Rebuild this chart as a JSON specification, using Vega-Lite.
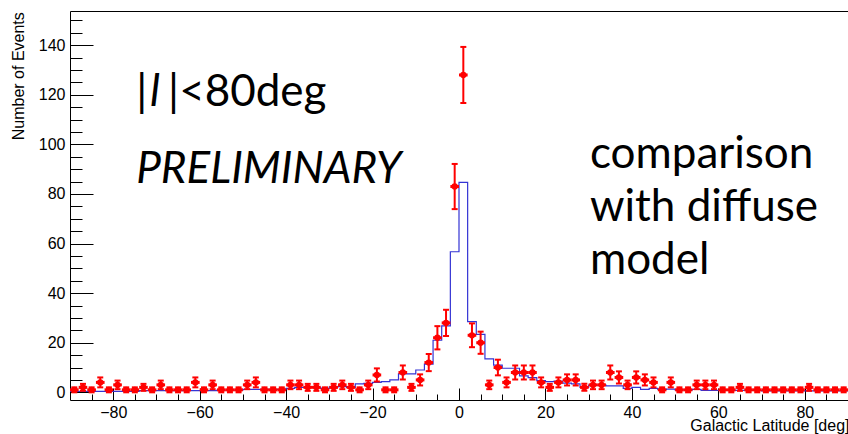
{
  "$schema": "https://vega.github.io/schema/vega-lite/v6.json",
  "width": 778,
  "height": 389,
  "autosize": {"type": "none"},
  "padding": {"left": 70, "top": 11, "right": 0, "bottom": 34},
  "background": "white",
  "config": {
    "view": {"stroke": null},
    "axis": {
      "grid": false,
      "labelFont": "Liberation Sans",
      "titleFont": "Liberation Sans",
      "labelFontSize": 16,
      "titleFontSize": 16,
      "titleFontWeight": "normal",
      "labelColor": "#000",
      "titleColor": "#000",
      "domainColor": "#000",
      "tickColor": "#000",
      "domainWidth": 1,
      "tickWidth": 1
    }
  },
  "datasets": {
    "counts": [
      {"b0": -90, "b1": -88, "c": -89, "n": 1, "elo": 0, "ehi": 2},
      {"b0": -88, "b1": -86, "c": -87, "n": 2, "elo": 0.59, "ehi": 3.41},
      {"b0": -86, "b1": -84, "c": -85, "n": 1, "elo": 0, "ehi": 2},
      {"b0": -84, "b1": -82, "c": -83, "n": 4, "elo": 2, "ehi": 6},
      {"b0": -82, "b1": -80, "c": -81, "n": 1, "elo": 0, "ehi": 2},
      {"b0": -80, "b1": -78, "c": -79, "n": 3, "elo": 1.27, "ehi": 4.73},
      {"b0": -78, "b1": -76, "c": -77, "n": 1, "elo": 0, "ehi": 2},
      {"b0": -76, "b1": -74, "c": -75, "n": 1, "elo": 0, "ehi": 2},
      {"b0": -74, "b1": -72, "c": -73, "n": 2, "elo": 0.59, "ehi": 3.41},
      {"b0": -72, "b1": -70, "c": -71, "n": 1, "elo": 0, "ehi": 2},
      {"b0": -70, "b1": -68, "c": -69, "n": 3, "elo": 1.27, "ehi": 4.73},
      {"b0": -68, "b1": -66, "c": -67, "n": 1, "elo": 0, "ehi": 2},
      {"b0": -66, "b1": -64, "c": -65, "n": 1, "elo": 0, "ehi": 2},
      {"b0": -64, "b1": -62, "c": -63, "n": 1, "elo": 0, "ehi": 2},
      {"b0": -62, "b1": -60, "c": -61, "n": 4, "elo": 2, "ehi": 6},
      {"b0": -60, "b1": -58, "c": -59, "n": 1, "elo": 0, "ehi": 2},
      {"b0": -58, "b1": -56, "c": -57, "n": 3, "elo": 1.27, "ehi": 4.73},
      {"b0": -56, "b1": -54, "c": -55, "n": 1, "elo": 0, "ehi": 2},
      {"b0": -54, "b1": -52, "c": -53, "n": 1, "elo": 0, "ehi": 2},
      {"b0": -52, "b1": -50, "c": -51, "n": 1, "elo": 0, "ehi": 2},
      {"b0": -50, "b1": -48, "c": -49, "n": 3, "elo": 1.27, "ehi": 4.73},
      {"b0": -48, "b1": -46, "c": -47, "n": 4, "elo": 2, "ehi": 6},
      {"b0": -46, "b1": -44, "c": -45, "n": 1, "elo": 0, "ehi": 2},
      {"b0": -44, "b1": -42, "c": -43, "n": 1, "elo": 0, "ehi": 2},
      {"b0": -42, "b1": -40, "c": -41, "n": 1, "elo": 0, "ehi": 2},
      {"b0": -40, "b1": -38, "c": -39, "n": 3, "elo": 1.27, "ehi": 4.73},
      {"b0": -38, "b1": -36, "c": -37, "n": 3, "elo": 1.27, "ehi": 4.73},
      {"b0": -36, "b1": -34, "c": -35, "n": 2, "elo": 0.59, "ehi": 3.41},
      {"b0": -34, "b1": -32, "c": -33, "n": 2, "elo": 0.59, "ehi": 3.41},
      {"b0": -32, "b1": -30, "c": -31, "n": 1, "elo": 0, "ehi": 2},
      {"b0": -30, "b1": -28, "c": -29, "n": 2, "elo": 0.59, "ehi": 3.41},
      {"b0": -28, "b1": -26, "c": -27, "n": 3, "elo": 1.27, "ehi": 4.73},
      {"b0": -26, "b1": -24, "c": -25, "n": 2, "elo": 0.59, "ehi": 3.41},
      {"b0": -24, "b1": -22, "c": -23, "n": 1, "elo": 0, "ehi": 2},
      {"b0": -22, "b1": -20, "c": -21, "n": 3, "elo": 1.27, "ehi": 4.73},
      {"b0": -20, "b1": -18, "c": -19, "n": 7, "elo": 4.35, "ehi": 9.65},
      {"b0": -18, "b1": -16, "c": -17, "n": 1, "elo": 0, "ehi": 2},
      {"b0": -16, "b1": -14, "c": -15, "n": 1, "elo": 0, "ehi": 2},
      {"b0": -14, "b1": -12, "c": -13, "n": 8, "elo": 5.17, "ehi": 10.83},
      {"b0": -12, "b1": -10, "c": -11, "n": 2, "elo": 0.59, "ehi": 3.41},
      {"b0": -10, "b1": -8, "c": -9, "n": 5, "elo": 2.76, "ehi": 7.24},
      {"b0": -8, "b1": -6, "c": -7, "n": 12, "elo": 8.54, "ehi": 15.46},
      {"b0": -6, "b1": -4, "c": -5, "n": 22, "elo": 17.31, "ehi": 26.69},
      {"b0": -4, "b1": -2, "c": -3, "n": 28, "elo": 22.71, "ehi": 33.29},
      {"b0": -2, "b1": 0, "c": -1, "n": 83, "elo": 73.89, "ehi": 92.11},
      {"b0": 0, "b1": 2, "c": 1, "n": 128, "elo": 116.69, "ehi": 139.31},
      {"b0": 2, "b1": 4, "c": 3, "n": 23, "elo": 18.2, "ehi": 27.8},
      {"b0": 4, "b1": 6, "c": 5, "n": 20, "elo": 15.53, "ehi": 24.47},
      {"b0": 6, "b1": 8, "c": 7, "n": 3, "elo": 1.27, "ehi": 4.73},
      {"b0": 8, "b1": 10, "c": 9, "n": 10, "elo": 6.84, "ehi": 13.16},
      {"b0": 10, "b1": 12, "c": 11, "n": 4, "elo": 2, "ehi": 6},
      {"b0": 12, "b1": 14, "c": 13, "n": 8, "elo": 5.17, "ehi": 10.83},
      {"b0": 14, "b1": 16, "c": 15, "n": 8, "elo": 5.17, "ehi": 10.83},
      {"b0": 16, "b1": 18, "c": 17, "n": 8, "elo": 5.17, "ehi": 10.83},
      {"b0": 18, "b1": 20, "c": 19, "n": 4, "elo": 2, "ehi": 6},
      {"b0": 20, "b1": 22, "c": 21, "n": 2, "elo": 0.59, "ehi": 3.41},
      {"b0": 22, "b1": 24, "c": 23, "n": 4, "elo": 2, "ehi": 6},
      {"b0": 24, "b1": 26, "c": 25, "n": 5, "elo": 2.76, "ehi": 7.24},
      {"b0": 26, "b1": 28, "c": 27, "n": 5, "elo": 2.76, "ehi": 7.24},
      {"b0": 28, "b1": 30, "c": 29, "n": 2, "elo": 0.59, "ehi": 3.41},
      {"b0": 30, "b1": 32, "c": 31, "n": 3, "elo": 1.27, "ehi": 4.73},
      {"b0": 32, "b1": 34, "c": 33, "n": 3, "elo": 1.27, "ehi": 4.73},
      {"b0": 34, "b1": 36, "c": 35, "n": 8, "elo": 5.17, "ehi": 10.83},
      {"b0": 36, "b1": 38, "c": 37, "n": 6, "elo": 3.55, "ehi": 8.45},
      {"b0": 38, "b1": 40, "c": 39, "n": 3, "elo": 1.27, "ehi": 4.73},
      {"b0": 40, "b1": 42, "c": 41, "n": 6, "elo": 3.55, "ehi": 8.45},
      {"b0": 42, "b1": 44, "c": 43, "n": 5, "elo": 2.76, "ehi": 7.24},
      {"b0": 44, "b1": 46, "c": 45, "n": 4, "elo": 2, "ehi": 6},
      {"b0": 46, "b1": 48, "c": 47, "n": 1, "elo": 0, "ehi": 2},
      {"b0": 48, "b1": 50, "c": 49, "n": 4, "elo": 2, "ehi": 6},
      {"b0": 50, "b1": 52, "c": 51, "n": 1, "elo": 0, "ehi": 2},
      {"b0": 52, "b1": 54, "c": 53, "n": 1, "elo": 0, "ehi": 2},
      {"b0": 54, "b1": 56, "c": 55, "n": 3, "elo": 1.27, "ehi": 4.73},
      {"b0": 56, "b1": 58, "c": 57, "n": 3, "elo": 1.27, "ehi": 4.73},
      {"b0": 58, "b1": 60, "c": 59, "n": 3, "elo": 1.27, "ehi": 4.73},
      {"b0": 60, "b1": 62, "c": 61, "n": 1, "elo": 0, "ehi": 2},
      {"b0": 62, "b1": 64, "c": 63, "n": 1, "elo": 0, "ehi": 2},
      {"b0": 64, "b1": 66, "c": 65, "n": 2, "elo": 0.59, "ehi": 3.41},
      {"b0": 66, "b1": 68, "c": 67, "n": 1, "elo": 0, "ehi": 2},
      {"b0": 68, "b1": 70, "c": 69, "n": 1, "elo": 0, "ehi": 2},
      {"b0": 70, "b1": 72, "c": 71, "n": 1, "elo": 0, "ehi": 2},
      {"b0": 72, "b1": 74, "c": 73, "n": 1, "elo": 0, "ehi": 2},
      {"b0": 74, "b1": 76, "c": 75, "n": 1, "elo": 0, "ehi": 2},
      {"b0": 76, "b1": 78, "c": 77, "n": 1, "elo": 0, "ehi": 2},
      {"b0": 78, "b1": 80, "c": 79, "n": 1, "elo": 0, "ehi": 2},
      {"b0": 80, "b1": 82, "c": 81, "n": 2, "elo": 0.59, "ehi": 3.41},
      {"b0": 82, "b1": 84, "c": 83, "n": 1, "elo": 0, "ehi": 2},
      {"b0": 84, "b1": 86, "c": 85, "n": 1, "elo": 0, "ehi": 2},
      {"b0": 86, "b1": 88, "c": 87, "n": 1, "elo": 0, "ehi": 2},
      {"b0": 88, "b1": 90, "c": 89, "n": 1, "elo": 0, "ehi": 2}
    ],
    "model": [
      {"x": -90, "m": 0.4}, {"x": -88, "m": 0.4}, {"x": -86, "m": 0.4}, {"x": -84, "m": 0.4},
      {"x": -82, "m": 0.4}, {"x": -80, "m": 0.4}, {"x": -78, "m": 0.4}, {"x": -76, "m": 0.4},
      {"x": -74, "m": 0.7}, {"x": -72, "m": 0.7}, {"x": -70, "m": 0.7}, {"x": -68, "m": 0.7},
      {"x": -66, "m": 0.7}, {"x": -64, "m": 0.7}, {"x": -62, "m": 0.7}, {"x": -60, "m": 0.7},
      {"x": -58, "m": 0.7}, {"x": -56, "m": 0.9}, {"x": -54, "m": 0.9}, {"x": -52, "m": 0.9},
      {"x": -50, "m": 1.2}, {"x": -48, "m": 1.2}, {"x": -46, "m": 1.2}, {"x": -44, "m": 1.2},
      {"x": -42, "m": 1.2}, {"x": -40, "m": 1.6}, {"x": -38, "m": 2.0}, {"x": -36, "m": 2.0},
      {"x": -34, "m": 2.0}, {"x": -32, "m": 1.6}, {"x": -30, "m": 2.2}, {"x": -28, "m": 2.3},
      {"x": -26, "m": 2.0}, {"x": -24, "m": 3.4}, {"x": -22, "m": 3.6}, {"x": -20, "m": 4.0},
      {"x": -18, "m": 4.3}, {"x": -16, "m": 5.0}, {"x": -14, "m": 7.4}, {"x": -12, "m": 7.4},
      {"x": -10, "m": 9.0}, {"x": -8, "m": 11.4}, {"x": -6, "m": 21.0}, {"x": -4, "m": 26.8},
      {"x": -2, "m": 56.7}, {"x": 0, "m": 84.7}, {"x": 2, "m": 28.5}, {"x": 4, "m": 23.4},
      {"x": 6, "m": 13.5}, {"x": 8, "m": 11.0}, {"x": 10, "m": 9.7}, {"x": 12, "m": 9.7},
      {"x": 14, "m": 6.6}, {"x": 16, "m": 5.9}, {"x": 18, "m": 4.7}, {"x": 20, "m": 4.3},
      {"x": 22, "m": 4.5}, {"x": 24, "m": 3.7}, {"x": 26, "m": 3.4}, {"x": 28, "m": 2.0},
      {"x": 30, "m": 2.9}, {"x": 32, "m": 2.9}, {"x": 34, "m": 2.6}, {"x": 36, "m": 2.6},
      {"x": 38, "m": 1.6}, {"x": 40, "m": 2.0}, {"x": 42, "m": 1.2}, {"x": 44, "m": 1.6},
      {"x": 46, "m": 1.2}, {"x": 48, "m": 1.3}, {"x": 50, "m": 1.0}, {"x": 52, "m": 1.0},
      {"x": 54, "m": 1.2}, {"x": 56, "m": 0.8}, {"x": 58, "m": 0.8}, {"x": 60, "m": 0.8},
      {"x": 62, "m": 0.8}, {"x": 64, "m": 0.8}, {"x": 66, "m": 0.8}, {"x": 68, "m": 0.8},
      {"x": 70, "m": 0.6}, {"x": 72, "m": 0.6}, {"x": 74, "m": 0.6}, {"x": 76, "m": 0.6},
      {"x": 78, "m": 0.6}, {"x": 80, "m": 0.6}, {"x": 82, "m": 0.6}, {"x": 84, "m": 0.6},
      {"x": 86, "m": 0.6}, {"x": 88, "m": 0.6}, {"x": 90, "m": 0.6}
    ],
    "notes_upright": [
      {"x": -74.7, "y": 115.5, "t": "|"},
      {"x": -67.3, "y": 115.5, "t": "|<80deg"},
      {"x": 30.3, "y": 90.5, "t": "comparison"},
      {"x": 30.3, "y": 69.1, "t": "with diffuse"},
      {"x": 30.3, "y": 47.7, "t": "model"}
    ],
    "notes_italic": [
      {"x": -71.5, "y": 115.5, "t": "l"},
      {"x": -74.7, "y": 84.4, "t": "PRELIMINARY"}
    ]
  },
  "resolve": {"axis": {"x": "independent", "y": "independent"}},
  "layer": [
    {
      "data": {"name": "model"},
      "mark": {"type": "line", "interpolate": "step-after", "color": "#3434d4", "strokeWidth": 1.2},
      "encoding": {
        "x": {
          "field": "x", "type": "quantitative",
          "scale": {"domain": [-90, 90], "nice": false, "zero": false},
          "axis": {
            "orient": "bottom", "values": [-80, -60, -40, -20, 0, 20, 40, 60, 80],
            "ticks": false, "labelPadding": 4, "labelFlush": false,
            "title": "Galactic Latitude [deg]", "titleX": 779, "titleY": 30,
            "titleAlign": "right", "titleBaseline": "alphabetic", "titleAnchor": "end"
          }
        },
        "y": {
          "field": "m", "type": "quantitative",
          "scale": {"domain": [-3.1, 153.8], "nice": false, "zero": false},
          "axis": {
            "orient": "left", "values": [0, 20, 40, 60, 80, 100, 120, 140],
            "ticks": false, "labelPadding": 5, "labelFlush": false,
            "title": "Number of Events", "titleX": -46.7, "titleY": 0.7, "titleAngle": -90,
            "titleAlign": "right", "titleBaseline": "alphabetic", "titleAnchor": "end"
          }
        }
      }
    },
    {
      "data": {"name": "counts"},
      "mark": {"type": "rule", "color": "#ff0000", "strokeWidth": 2},
      "encoding": {
        "x": {
          "field": "c", "type": "quantitative",
          "scale": {"domain": [-90, 90], "nice": false, "zero": false},
          "axis": {
            "orient": "bottom", "values": [-80, -60, -40, -20, 0, 20, 40, 60, 80],
            "labels": false, "domain": false, "tickSize": -12, "title": null
          }
        },
        "y": {
          "field": "elo", "type": "quantitative",
          "scale": {"domain": [-3.1, 153.8], "nice": false, "zero": false},
          "axis": {
            "orient": "left", "values": [0, 20, 40, 60, 80, 100, 120, 140],
            "labels": false, "domain": false, "tickSize": -23, "title": null
          }
        },
        "y2": {"field": "ehi"}
      }
    },
    {
      "data": {"name": "counts"},
      "mark": {"type": "rule", "color": "#ff0000", "strokeWidth": 3},
      "encoding": {
        "x": {
          "field": "b0", "type": "quantitative",
          "scale": {"domain": [-90, 90], "nice": false, "zero": false},
          "axis": {
            "orient": "bottom",
            "values": [-85, -75, -70, -65, -55, -50, -45, -35, -30, -25, -15, -10, -5, 5, 10, 15, 25, 30, 35, 45, 50, 55, 65, 70, 75, 85],
            "labels": false, "domain": false, "tickSize": -6, "title": null
          }
        },
        "x2": {"field": "b1"},
        "y": {
          "field": "n", "type": "quantitative",
          "scale": {"domain": [-3.1, 153.8], "nice": false, "zero": false},
          "axis": {
            "orient": "left",
            "values": [5, 10, 15, 25, 30, 35, 45, 50, 55, 65, 70, 75, 85, 90, 95, 105, 110, 115, 125, 130, 135, 145, 150],
            "labels": false, "domain": false, "tickSize": -12, "title": null
          }
        }
      }
    },
    {
      "data": {"name": "counts"},
      "mark": {"type": "point", "shape": "circle", "filled": true, "color": "#ff0000", "size": 40, "opacity": 1},
      "encoding": {
        "x": {
          "field": "c", "type": "quantitative",
          "scale": {"domain": [-90, 90], "nice": false, "zero": false},
          "axis": {"orient": "top", "labels": false, "ticks": false, "domain": true, "title": null}
        },
        "y": {
          "field": "n", "type": "quantitative",
          "scale": {"domain": [-3.1, 153.8], "nice": false, "zero": false},
          "axis": null
        }
      }
    },
    {
      "data": {"name": "counts"},
      "mark": {"type": "tick", "orient": "horizontal", "color": "#ff0000", "size": 6, "thickness": 2, "opacity": 1},
      "encoding": {
        "x": {"field": "c", "type": "quantitative", "scale": {"domain": [-90, 90], "nice": false, "zero": false}, "axis": null},
        "y": {"field": "ehi", "type": "quantitative", "scale": {"domain": [-3.1, 153.8], "nice": false, "zero": false}, "axis": null}
      }
    },
    {
      "data": {"name": "counts"},
      "mark": {"type": "tick", "orient": "horizontal", "color": "#ff0000", "size": 6, "thickness": 2, "opacity": 1},
      "encoding": {
        "x": {"field": "c", "type": "quantitative", "scale": {"domain": [-90, 90], "nice": false, "zero": false}, "axis": null},
        "y": {"field": "elo", "type": "quantitative", "scale": {"domain": [-3.1, 153.8], "nice": false, "zero": false}, "axis": null}
      }
    },
    {
      "data": {"name": "notes_upright"},
      "mark": {"type": "text", "align": "left", "baseline": "alphabetic", "font": "Lato", "fontSize": 44, "color": "#000"},
      "encoding": {
        "x": {"field": "x", "type": "quantitative", "scale": {"domain": [-90, 90], "nice": false, "zero": false}, "axis": null},
        "y": {"field": "y", "type": "quantitative", "scale": {"domain": [-3.1, 153.8], "nice": false, "zero": false}, "axis": null},
        "text": {"field": "t"}
      }
    },
    {
      "data": {"name": "notes_italic"},
      "mark": {"type": "text", "align": "left", "baseline": "alphabetic", "font": "Lato", "fontStyle": "italic", "fontSize": 44, "color": "#000"},
      "encoding": {
        "x": {"field": "x", "type": "quantitative", "scale": {"domain": [-90, 90], "nice": false, "zero": false}, "axis": null},
        "y": {"field": "y", "type": "quantitative", "scale": {"domain": [-3.1, 153.8], "nice": false, "zero": false}, "axis": null},
        "text": {"field": "t"}
      }
    }
  ]
}
